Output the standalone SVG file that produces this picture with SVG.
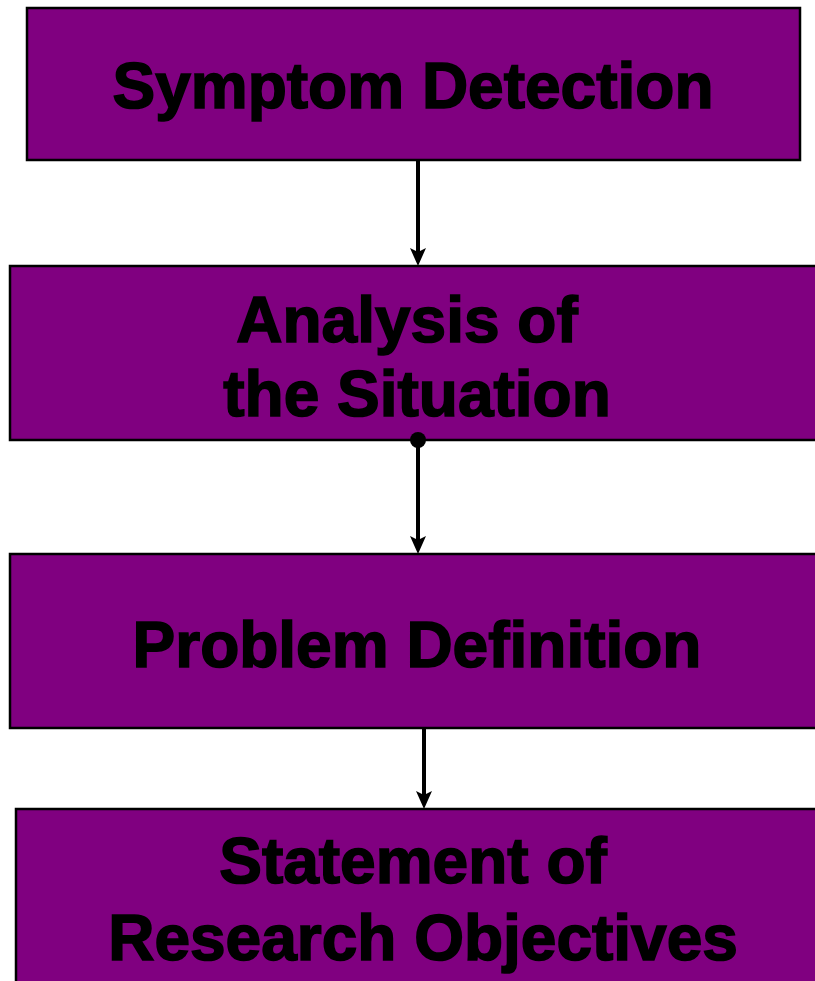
<svg xmlns="http://www.w3.org/2000/svg" width="815" height="981" viewBox="0 0 815 981">
  <style>
    .box { fill: #800080; stroke: #000; stroke-width: 2.5; }
    .lbl { font-family: "Liberation Sans", Arial, sans-serif; font-weight: bold; font-size: 64px; fill: #000; stroke: #000; stroke-width: 1.6; text-anchor: middle; }
    .conn { stroke: #000; stroke-width: 4; fill: none; }
    .head { fill: #000; }
  </style>
  <defs>
    <!-- filled chevron arrowhead, tip at (0,0), pointing down -->
    <path id="arrowhead" d="M-8,-18 L0,-14 L8,-18 L0,0 Z"/>
  </defs>
  <rect width="815" height="981" fill="#fff"/>

  <g id="symptom-detection">
    <rect class="box" x="27" y="8" width="773" height="152"/>
    <text class="lbl" x="413" y="108">Symptom Detection</text>
  </g>

  <g id="analysis-of-situation">
    <rect class="box" x="10" y="266" width="815" height="174"/>
    <text class="lbl" x="407" y="342">Analysis of</text>
    <text class="lbl" x="417" y="416">the Situation</text>
  </g>

  <g id="problem-definition">
    <rect class="box" x="10" y="554" width="815" height="174"/>
    <text class="lbl" x="417" y="667">Problem Definition</text>
  </g>

  <g id="research-objectives">
    <rect class="box" x="16" y="809" width="820" height="190"/>
    <text class="lbl" x="413" y="883">Statement of</text>
    <text class="lbl" x="423" y="960">Research Objectives</text>
  </g>

  <g id="connectors">
    <line class="conn" x1="418" y1="161" x2="418" y2="252"/>
    <use href="#arrowhead" class="head" x="418" y="266"/>
    <circle cx="418" cy="440" r="8" fill="#000"/>
    <line class="conn" x1="418" y1="440" x2="418" y2="540"/>
    <use href="#arrowhead" class="head" x="418" y="554"/>
    <line class="conn" x1="424" y1="729" x2="424" y2="795"/>
    <use href="#arrowhead" class="head" x="424" y="809"/>
  </g>
</svg>
